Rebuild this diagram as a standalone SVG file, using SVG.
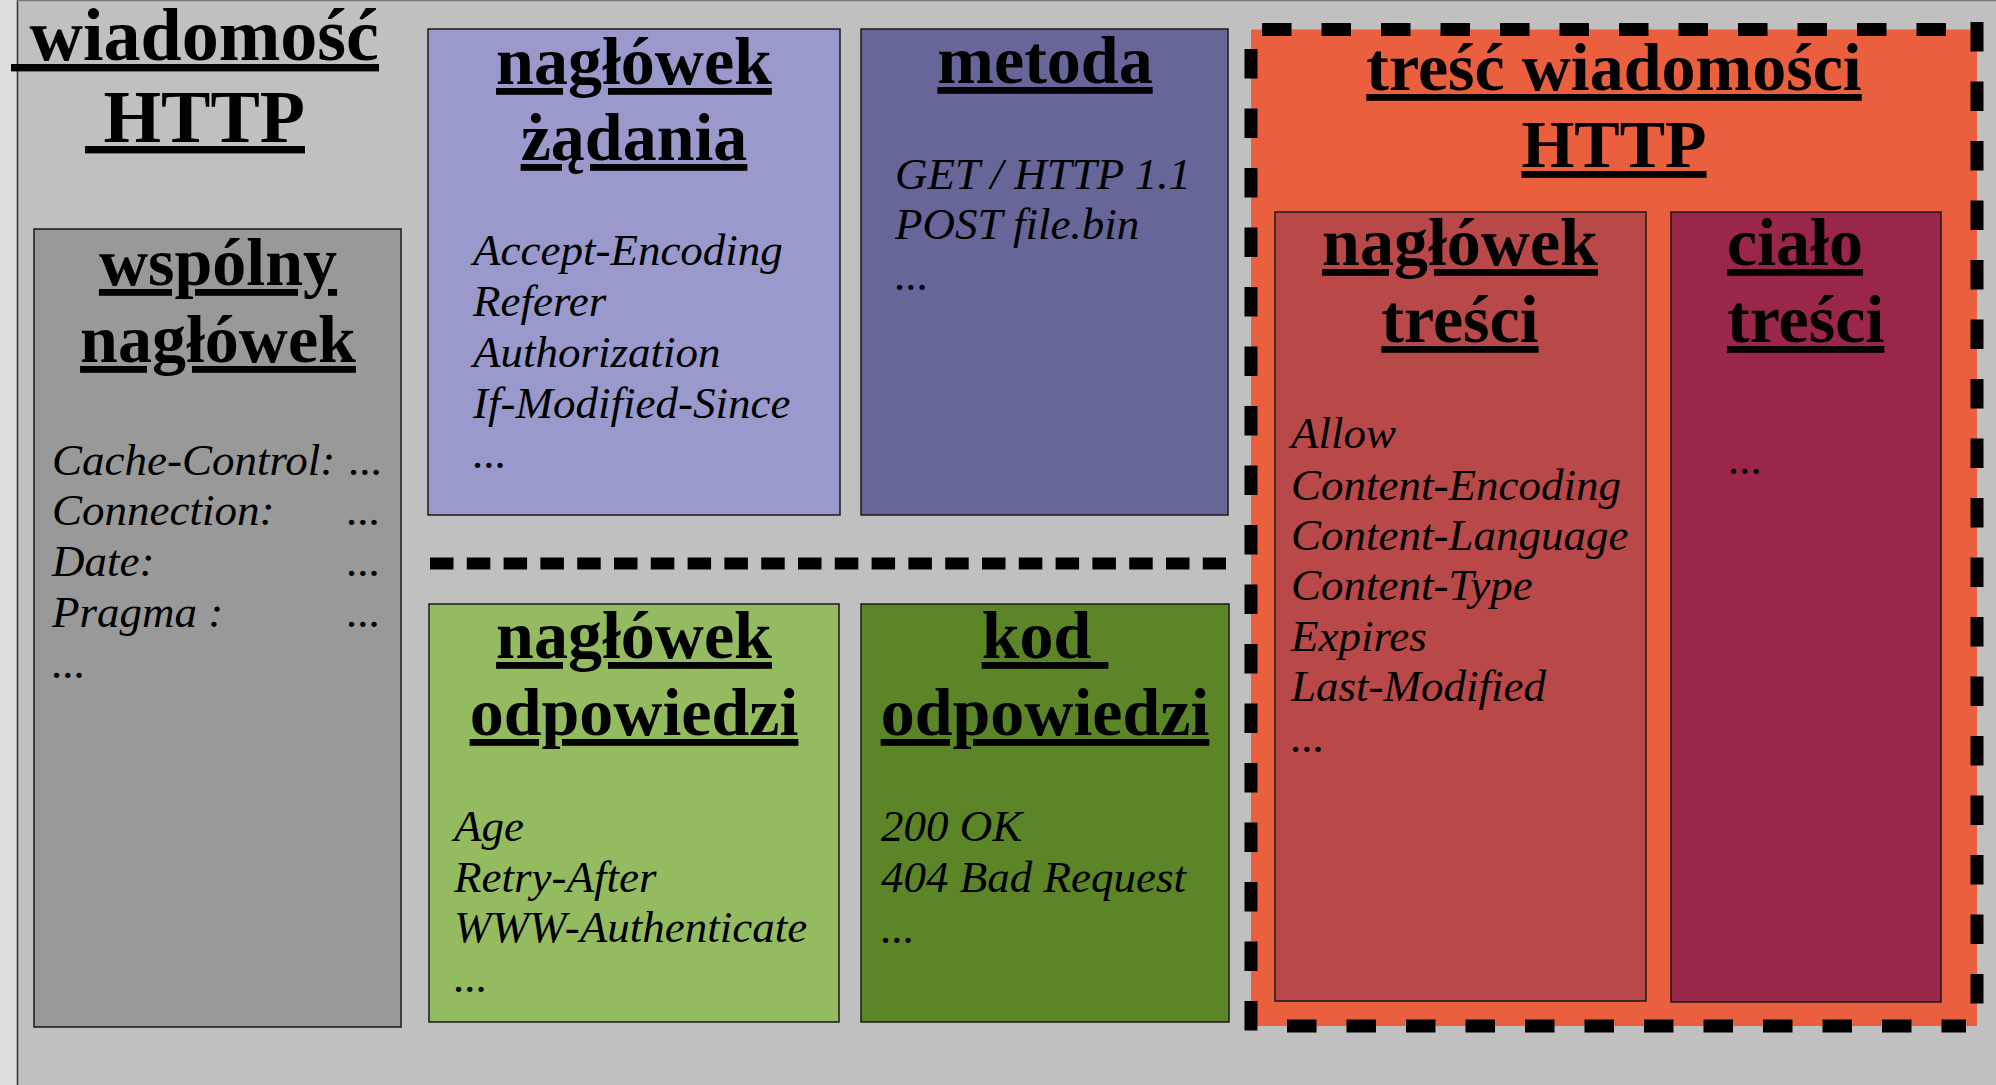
<svg xmlns="http://www.w3.org/2000/svg" width="1996" height="1085" viewBox="0 0 1996 1085">
<style>
.box{stroke:#1a1a1a;stroke-width:1.5}
.t{font-family:"Liberation Serif","Times New Roman",serif;font-weight:bold;font-size:68px;text-decoration:underline;text-anchor:middle;fill:#000;white-space:pre}
.big{font-size:74px}
.s{text-anchor:start}
.it{font-family:"Liberation Serif","Times New Roman",serif;font-style:italic;font-size:45px;fill:#000}
.dash{stroke:#000;stroke-width:13;fill:none;stroke-dasharray:29.5 30}
.dash2{stroke:#000;stroke-width:12;fill:none;stroke-dasharray:23.5 13.3}
</style>
<rect x="0" y="0" width="1996" height="1085" fill="#c0c0c0"/>
<rect x="0" y="0" width="17" height="1085" fill="#dedede"/>
<line x1="17.5" y1="0" x2="17.5" y2="1085" stroke="#333" stroke-width="1.5"/>
<line x1="17" y1="0.5" x2="1996" y2="0.5" stroke="#777" stroke-width="1.5"/>

<g id="title">
<text class="t big" x="195" y="60" xml:space="preserve"> wiadomość</text>
<text class="t big" x="195" y="142" xml:space="preserve"> HTTP</text>
</g>

<g id="wspolny-naglowek">
<rect class="box" x="34" y="229" width="367" height="798" fill="#999999"/>
<text class="t" x="218" y="285">wspólny</text>
<text class="t" x="218" y="362">nagłówek</text>
<text class="it" x="52" y="475">Cache-Control:<tspan x="349">...</tspan></text>
<text class="it" x="52" y="525">Connection:<tspan x="347">...</tspan></text>
<text class="it" x="52" y="576">Date:<tspan x="347">...</tspan></text>
<text class="it" x="52" y="627">Pragma :<tspan x="347">...</tspan></text>
<text class="it" x="52" y="678">...</text>
</g>

<g id="naglowek-zadania">
<rect class="box" x="428" y="29" width="412" height="486" fill="#9999cc"/>
<text class="t" x="634" y="84">nagłówek</text>
<text class="t" x="634" y="160">żądania</text>
<text class="it" x="473" y="265">Accept-Encoding</text>
<text class="it" x="473" y="316">Referer</text>
<text class="it" x="473" y="367">Authorization</text>
<text class="it" x="473" y="418">If-Modified-Since</text>
<text class="it" x="473" y="468">...</text>
</g>

<g id="metoda">
<rect class="box" x="861" y="29" width="367" height="486" fill="#666699"/>
<text class="t" x="1045" y="83">metoda</text>
<text class="it" x="895" y="189">GET / HTTP 1.1</text>
<text class="it" x="895" y="239">POST file.bin</text>
<text class="it" x="895" y="290">...</text>
</g>

<g id="naglowek-odpowiedzi">
<rect class="box" x="429" y="604" width="410" height="418" fill="#94bb5f"/>
<text class="t" x="634" y="658">nagłówek</text>
<text class="t" x="634" y="735">odpowiedzi</text>
<text class="it" x="454" y="841">Age</text>
<text class="it" x="454" y="892">Retry-After</text>
<text class="it" x="454" y="942">WWW-Authenticate</text>
<text class="it" x="454" y="992">...</text>
</g>

<g id="kod-odpowiedzi">
<rect class="box" x="861" y="604" width="368" height="418" fill="#5b8527"/>
<text class="t" x="1045" y="658" xml:space="preserve">kod </text>
<text class="t" x="1045" y="735">odpowiedzi</text>
<text class="it" x="881" y="841">200 OK</text>
<text class="it" x="881" y="892">404 Bad Request</text>
<text class="it" x="881" y="943">...</text>
</g>

<g id="tresc-wiadomosci">
<rect x="1251" y="29.5" width="726" height="996.5" fill="#ea603e"/>
<line class="dash" x1="1262" y1="29.5" x2="1948" y2="29.5"/>
<line class="dash" x1="1977" y1="22" x2="1977" y2="1015"/>
<line class="dash" x1="1251" y1="49" x2="1251" y2="1032"/>
<line class="dash" x1="1287" y1="1026" x2="1966" y2="1026"/>
<text class="t" x="1614" y="90">treść wiadomości</text>
<text class="t" x="1614" y="167">HTTP</text>
</g>

<g id="naglowek-tresci">
<rect class="box" x="1275" y="212" width="371" height="789" fill="#b94848"/>
<text class="t" x="1460" y="265">nagłówek</text>
<text class="t" x="1460" y="342">treści</text>
<text class="it" x="1291" y="448">Allow</text>
<text class="it" x="1291" y="500">Content-Encoding</text>
<text class="it" x="1291" y="550">Content-Language</text>
<text class="it" x="1291" y="600">Content-Type</text>
<text class="it" x="1291" y="651">Expires</text>
<text class="it" x="1291" y="701">Last-Modified</text>
<text class="it" x="1291" y="752">...</text>
</g>

<g id="cialo-tresci">
<rect class="box" x="1671" y="212" width="270" height="790" fill="#9a2649"/>
<text class="t s" x="1727" y="265">ciało</text>
<text class="t s" x="1727" y="342">treści</text>
<text class="it" x="1729" y="474">...</text>
</g>

<g id="connectors">
<line class="dash2" x1="430" y1="563.5" x2="1226" y2="563.5"/>
</g>
</svg>
